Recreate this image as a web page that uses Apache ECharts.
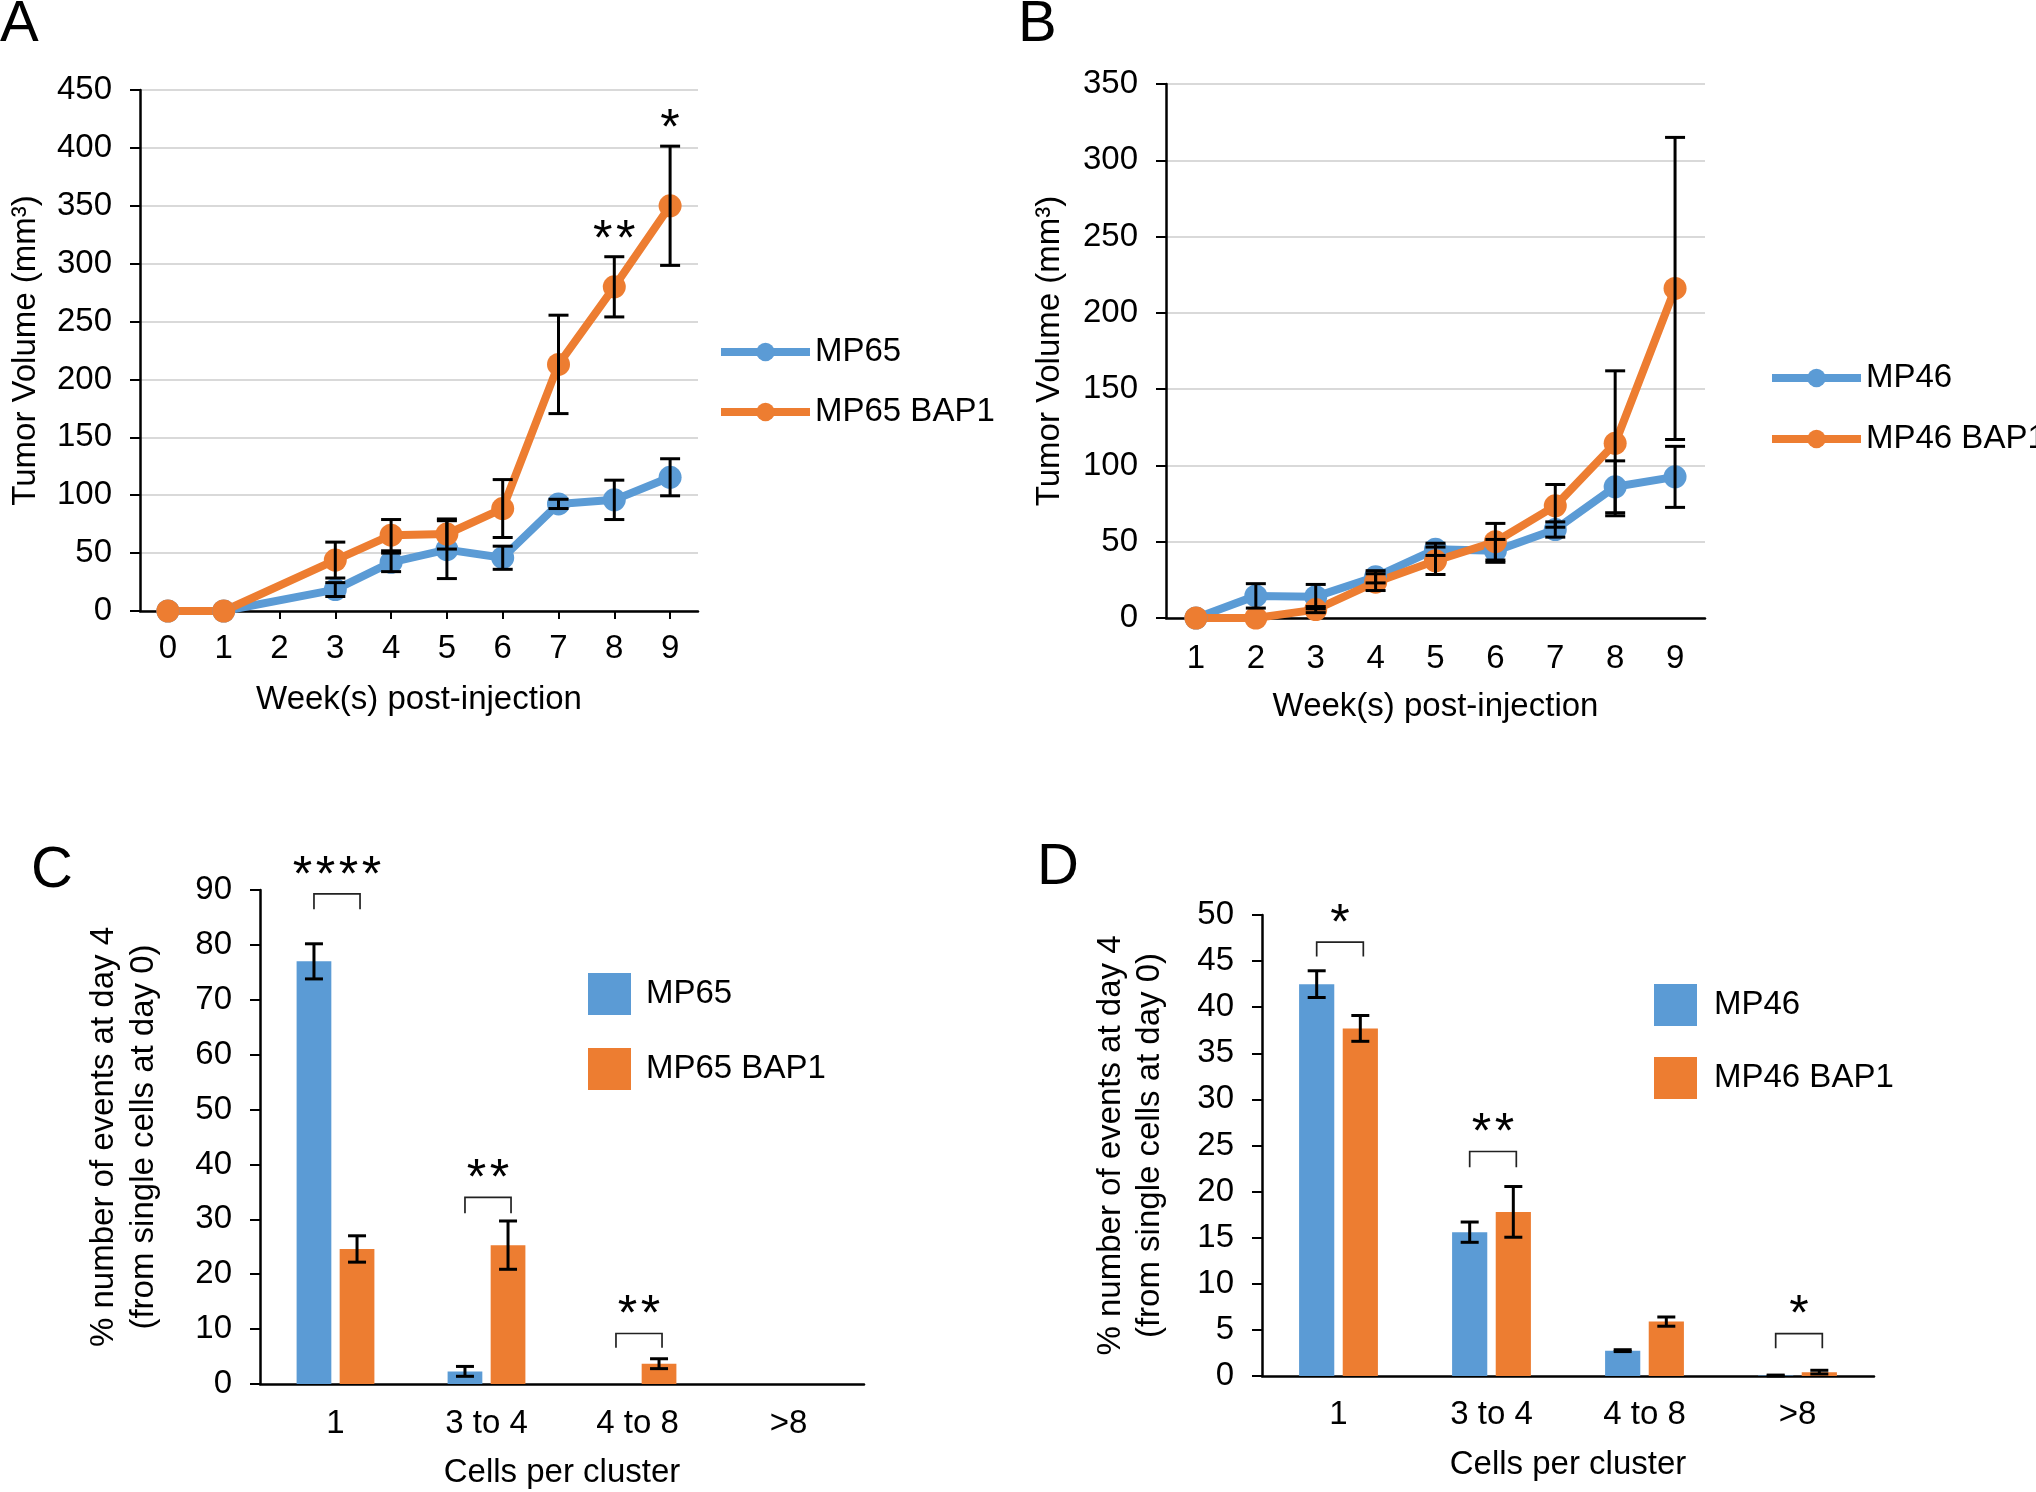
<!DOCTYPE html>
<html>
<head>
<meta charset="utf-8">
<script src="https://cdn.jsdelivr.net/npm/echarts@6/dist/echarts.min.js"></script>
<style>
html,body{margin:0;padding:0;background:#fff;overflow:hidden;}
.panel{position:absolute;width:1018px;height:746px;}
</style>
</head>
<body>
<div id="pa" class="panel" style="left:0;top:0"></div>
<div id="pb" class="panel" style="left:1018px;top:0"></div>
<div id="pc" class="panel" style="left:0;top:746px"></div>
<div id="pd" class="panel" style="left:1018px;top:746px"></div>
<script>
const BLUE = '#5b9bd5', ORANGE = '#ed7d31';
const FONT = '"Liberation Sans", Arial, sans-serif';

// panel A
const weeksA = ['0', '1', '2', '3', '4', '5', '6', '7', '8', '9'];
const mp65 = [0, 0, null, 18.5, 42, 53, 46, 92.5, 96, 115.5];
const mp65Err = [null, null, null, 6, 8, 25, 10, 4, 17, 16];
const mp65Bap1 = [0, 0, null, 44, 65.5, 66.5, 88.5, 213, 280, 350];
const mp65Bap1Err = [null, null, null, 15.5, 13.5, 13, 25, 42.5, 26, 51.5];
const starsA = ['', '', '', '', '', '', '', '', '**', '*'];

// panel B
const weeksB = ['1', '2', '3', '4', '5', '6', '7', '8', '9'];
const mp46 = [0, 14.5, 14, 27, 45, 44, 58, 86, 92.5];
const mp46Err = [null, 8, 8, 4, 4, 7.5, 5, 17, 20];
const mp46Bap1 = [0, 0, 5.5, 23.5, 37.5, 50, 73.5, 114.5, 216];
const mp46Bap1Err = [null, null, 2, 5.5, 9, 12, 14, 47.5, 99];

// panel C
const clusters = ['1', '3 to 4', '4 to 8', '>8'];
const mp65Bar = [77, 2.3, 0, 0];
const mp65BarErr = [3.2, 0.9, null, null];
const mp65Bap1Bar = [24.6, 25.3, 3.7, 0];
const mp65Bap1BarErr = [2.4, 4.4, 0.9, null];
const bracketCatC = [0, 1, 2];
const bracketTopC = [89.3, 34, 9.2];
const bracketLegC = [86.5, 31.1, 6.6];
const bracketStarsC = ['****', '**', '**'];

// panel D
const mp46Bar = [42.5, 15.6, 2.75, 0.05];
const mp46BarErr = [1.45, 1.1, 0.1, 0.05];
const mp46Bap1Bar = [37.7, 17.8, 5.9, 0.42];
const mp46Bap1BarErr = [1.4, 2.75, 0.5, 0.2];
const bracketCatD = [0, 1, 3];
const bracketTopD = [47.05, 24.35, 4.6];
const bracketLegD = [45.5, 22.65, 3.0];
const bracketStarsD = ['*', '**', '*'];

const BAR_W = 0.23, BAR_GAP = 0.24;
const SHIFT = BAR_W * (1 + BAR_GAP) / 2;
const STAR_STEP = 23;

function txt(size) {
  return {fontFamily: FONT, fontSize: size, color: '#000'};
}

function yAxis(max, interval, name, nameGap, grid, lineHeight) {
  return {
    type: 'value', min: 0, max: max, interval: interval,
    name: name, nameLocation: 'middle', nameGap: nameGap,
    nameTextStyle: Object.assign(txt(33), lineHeight ? {lineHeight: lineHeight} : {}),
    axisLine: {show: true, lineStyle: {color: '#000', width: 2.5}},
    axisTick: {show: true, length: 10, lineStyle: {color: '#000', width: 2}},
    axisLabel: Object.assign(txt(33), {margin: 28}),
    splitLine: {show: grid, lineStyle: {color: '#d9d9d9', width: 2}}
  };
}

function xAxis(cats, name, ticks, margin) {
  return {
    type: 'category', data: cats,
    name: name, nameLocation: 'middle', nameGap: 72,
    nameTextStyle: txt(33),
    axisLine: {lineStyle: {color: '#000', width: 2.5}},
    axisTick: {show: ticks, alignWithLabel: true, length: 8, lineStyle: {color: '#000', width: 2}},
    axisLabel: Object.assign(txt(33), {margin: margin, interval: 0}),
    splitLine: {show: false}
  };
}

// one text element per asterisk so the spacing follows the figure
function starTexts(str, cx, cy) {
  const n = str.length, out = [];
  for (let k = 0; k < n; k++) {
    out.push({type: 'text', x: cx + (k - (n - 1) / 2) * STAR_STEP, y: cy,
      style: {text: '*', font: '50px ' + FONT, fill: '#000', textAlign: 'center', textVerticalAlign: 'middle'}});
  }
  return out;
}

// error bars drawn through the axes; shift is a fraction of the category band
function errorSeries(values, errs, shift, cap, stars) {
  const data = [];
  values.forEach(function (v, i) {
    if (v != null && errs[i] != null) data.push([i, v, errs[i]]);
  });
  return {
    type: 'custom', silent: true, z: 3,
    renderItem: function (params, api) {
      const i = api.value(0), v = api.value(1), e = api.value(2);
      const band = api.size([1, 0])[0];
      const hi = api.coord([i, v + e]), lo = api.coord([i, v - e]);
      const x = hi[0] + shift * band;
      const s = {stroke: '#000', lineWidth: 3};
      let kids = [
        {type: 'line', shape: {x1: x, y1: hi[1], x2: x, y2: lo[1]}, style: s},
        {type: 'line', shape: {x1: x - cap / 2, y1: hi[1], x2: x + cap / 2, y2: hi[1]}, style: s},
        {type: 'line', shape: {x1: x - cap / 2, y1: lo[1], x2: x + cap / 2, y2: lo[1]}, style: s}
      ];
      if (stars && stars[i]) kids = kids.concat(starTexts(stars[i], x, hi[1] - 16));
      return {type: 'group', children: kids};
    },
    data: data
  };
}

function bracketSeries(cats, tops, legs, stars) {
  return {
    type: 'custom', silent: true, z: 4,
    renderItem: function (params, api) {
      const i = api.value(0);
      const band = api.size([1, 0])[0];
      const t = api.coord([i, api.value(1)]), l = api.coord([i, api.value(2)]);
      const x1 = t[0] - SHIFT * band, x2 = t[0] + SHIFT * band + 3;
      const kids = [
        {type: 'polyline', shape: {points: [[x1, l[1]], [x1, t[1]], [x2, t[1]], [x2, l[1]]]},
          style: {stroke: '#222', lineWidth: 1.7, fill: null}}
      ];
      return {type: 'group', children: kids.concat(starTexts(stars[params.dataIndex], (x1 + x2) / 2, t[1] - 17))};
    },
    data: cats.map(function (c, k) { return [c, tops[k], legs[k]]; })
  };
}

function lineSeries(name, data, color) {
  return {
    name: name, type: 'line', data: data, connectNulls: true,
    symbol: 'circle', symbolSize: 23, z: 2,
    itemStyle: {color: color},
    lineStyle: {color: color, width: 8}
  };
}

function barSeries(name, data, color) {
  return {
    name: name, type: 'bar', data: data,
    barWidth: (BAR_W * 100) + '%', barGap: (BAR_GAP * 100) + '%',
    itemStyle: {color: color}
  };
}

function letter(t, x, y) {
  return {type: 'text', left: x, top: y, style: {text: t, font: '58px ' + FONT, fill: '#000'}};
}

function lineLegend(left, top, gap, names) {
  return {
    left: left, top: top, padding: 0, orient: 'vertical', itemWidth: 89, itemHeight: 23, itemGap: gap,
    lineStyle: {width: 8},
    textStyle: Object.assign(txt(33), {lineHeight: 36}),
    data: names
  };
}

function barLegend(left, top, gap, textPad, names) {
  return {
    left: left, top: top, padding: 0, orient: 'vertical', icon: 'rect', itemWidth: 43, itemHeight: 42, itemGap: gap,
    textStyle: Object.assign(txt(33), {lineHeight: 42, padding: [0, 0, 0, textPad]}),
    data: names
  };
}

const optA = {
  animation: false,
  graphic: [letter('A', 0, -4)],
  grid: {left: 140, top: 90, width: 558, height: 521, containLabel: false, outerBoundsMode: 'none'},
  legend: lineLegend(717, 334, 24, ['MP65', 'MP65 BAP1']),
  xAxis: xAxis(weeksA, 'Week(s) post-injection', true, 21),
  yAxis: yAxis(450, 50, 'Tumor Volume (mm³)', 98, true),
  series: [
    errorSeries(mp65, mp65Err, 0, 20),
    errorSeries(mp65Bap1, mp65Bap1Err, 0, 20, starsA),
    lineSeries('MP65', mp65, BLUE),
    lineSeries('MP65 BAP1', mp65Bap1, ORANGE)
  ]
};

const optB = {
  animation: false,
  graphic: [letter('B', 0, -4)],
  grid: {left: 148, top: 84, width: 539, height: 534, containLabel: false, outerBoundsMode: 'none'},
  legend: lineLegend(750, 360, 25, ['MP46', 'MP46 BAP1']),
  xAxis: xAxis(weeksB, 'Week(s) post-injection', false, 24),
  yAxis: yAxis(350, 50, 'Tumor Volume (mm³)', 100, true),
  series: [
    errorSeries(mp46, mp46Err, 0, 20),
    errorSeries(mp46Bap1, mp46Bap1Err, 0, 20),
    lineSeries('MP46', mp46, BLUE),
    lineSeries('MP46 BAP1', mp46Bap1, ORANGE)
  ]
};

const optC = {
  animation: false,
  graphic: [letter('C', 31, 96)],
  grid: {left: 260, top: 144, width: 604, height: 494, containLabel: false, outerBoundsMode: 'none'},
  legend: barLegend(588, 227, 33, 10, ['MP65', 'MP65 BAP1']),
  xAxis: xAxis(clusters, 'Cells per cluster', false, 23),
  yAxis: yAxis(90, 10, '% number of events at day 4\n(from single cells at day 0)', 96, false, 40),
  series: [
    barSeries('MP65', mp65Bar, BLUE),
    barSeries('MP65 BAP1', mp65Bap1Bar, ORANGE),
    errorSeries(mp65Bar, mp65BarErr, -SHIFT, 18),
    errorSeries(mp65Bap1Bar, mp65Bap1BarErr, SHIFT, 18),
    bracketSeries(bracketCatC, bracketTopC, bracketLegC, bracketStarsC)
  ]
};

const optD = {
  animation: false,
  graphic: [letter('D', 19, 93)],
  grid: {left: 244, top: 169, width: 612, height: 461, containLabel: false, outerBoundsMode: 'none'},
  legend: barLegend(636, 238, 31, 12, ['MP46', 'MP46 BAP1']),
  xAxis: xAxis(clusters, 'Cells per cluster', false, 22),
  yAxis: yAxis(50, 5, '% number of events at day 4\n(from single cells at day 0)', 93, false, 39),
  series: [
    barSeries('MP46', mp46Bar, BLUE),
    barSeries('MP46 BAP1', mp46Bap1Bar, ORANGE),
    errorSeries(mp46Bar, mp46BarErr, -SHIFT, 18),
    errorSeries(mp46Bap1Bar, mp46Bap1BarErr, SHIFT, 18),
    bracketSeries(bracketCatD, bracketTopD, bracketLegD, bracketStarsD)
  ]
};

[['pa', optA], ['pb', optB], ['pc', optC], ['pd', optD]].forEach(function (p) {
  const chart = echarts.init(document.getElementById(p[0]), null, {renderer: 'canvas'});
  chart.setOption(p[1]);
});
</script>
</body>
</html>
